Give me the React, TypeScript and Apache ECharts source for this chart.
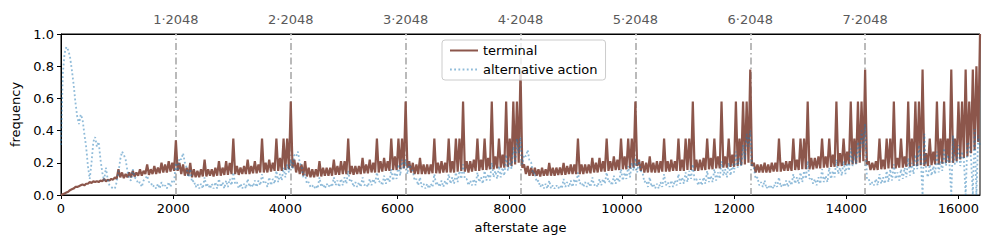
import React, { useEffect, useRef } from "react";
import * as echarts from "echarts";

// sampling grid of the hand-read values: one value every 32 steps, 8 blocks of 2048
const STEP = 32;
const BLOCK = 2048;

const terminal0 = [
  0, 0.005, 0.01, 0.015, 0.02, 0.03, 0.035, 0.04,
  0.05, 0.05, 0.055, 0.06, 0.065, 0.06, 0.07, 0.07,
  0.08, 0.075, 0.085, 0.08, 0.085, 0.08, 0.09, 0.085,
  0.1, 0.085, 0.095, 0.09, 0.1, 0.095, 0.11, 0.1,
  0.16, 0.11, 0.14, 0.105, 0.13, 0.11, 0.14, 0.11,
  0.15, 0.115, 0.14, 0.12, 0.16, 0.12, 0.15, 0.13,
  0.19, 0.125, 0.16, 0.13, 0.18, 0.13, 0.17, 0.135,
  0.2, 0.14, 0.19, 0.14, 0.21, 0.145, 0.2, 0.15,
];
const terminal1 = [
  0.34, 0.15, 0.2, 0.13, 0.19, 0.12, 0.17, 0.12,
  0.2, 0.11, 0.16, 0.11, 0.15, 0.11, 0.16, 0.115,
  0.22, 0.115, 0.16, 0.12, 0.16, 0.115, 0.17, 0.12,
  0.21, 0.12, 0.17, 0.125, 0.21, 0.125, 0.2, 0.13,
  0.35, 0.13, 0.18, 0.125, 0.17, 0.13, 0.18, 0.13,
  0.22, 0.13, 0.18, 0.135, 0.21, 0.135, 0.19, 0.14,
  0.35, 0.14, 0.2, 0.14, 0.22, 0.145, 0.2, 0.15,
  0.35, 0.15, 0.23, 0.15, 0.35, 0.155, 0.35, 0.16,
];
const terminal2 = [
  0.58, 0.17, 0.22, 0.14, 0.2, 0.13, 0.19, 0.12,
  0.21, 0.115, 0.17, 0.11, 0.16, 0.11, 0.16, 0.115,
  0.21, 0.115, 0.17, 0.12, 0.17, 0.12, 0.17, 0.12,
  0.22, 0.125, 0.18, 0.125, 0.21, 0.13, 0.21, 0.13,
  0.35, 0.13, 0.18, 0.125, 0.18, 0.13, 0.18, 0.13,
  0.23, 0.135, 0.19, 0.135, 0.22, 0.14, 0.2, 0.14,
  0.35, 0.14, 0.21, 0.145, 0.23, 0.15, 0.21, 0.15,
  0.35, 0.155, 0.24, 0.155, 0.35, 0.16, 0.35, 0.165,
];
const terminal3 = [
  0.58, 0.17, 0.21, 0.14, 0.2, 0.13, 0.19, 0.13,
  0.23, 0.13, 0.19, 0.13, 0.19, 0.13, 0.19, 0.135,
  0.35, 0.135, 0.2, 0.135, 0.21, 0.14, 0.2, 0.14,
  0.35, 0.14, 0.21, 0.14, 0.35, 0.145, 0.35, 0.15,
  0.58, 0.145, 0.21, 0.14, 0.21, 0.145, 0.22, 0.15,
  0.35, 0.15, 0.22, 0.155, 0.35, 0.155, 0.23, 0.16,
  0.58, 0.16, 0.24, 0.165, 0.35, 0.17, 0.25, 0.17,
  0.58, 0.175, 0.35, 0.18, 0.58, 0.19, 0.58, 0.2,
];
const terminal4 = [
  0.78, 0.17, 0.19, 0.13, 0.18, 0.12, 0.17, 0.12,
  0.17, 0.12, 0.16, 0.115, 0.17, 0.12, 0.16, 0.12,
  0.2, 0.12, 0.17, 0.12, 0.17, 0.125, 0.17, 0.125,
  0.2, 0.125, 0.18, 0.13, 0.19, 0.13, 0.19, 0.13,
  0.35, 0.13, 0.19, 0.13, 0.19, 0.135, 0.19, 0.135,
  0.23, 0.14, 0.2, 0.14, 0.23, 0.145, 0.21, 0.145,
  0.35, 0.15, 0.21, 0.15, 0.24, 0.155, 0.22, 0.155,
  0.35, 0.16, 0.24, 0.16, 0.35, 0.165, 0.35, 0.17,
];
const terminal5 = [
  0.58, 0.18, 0.22, 0.15, 0.21, 0.14, 0.2, 0.14,
  0.24, 0.14, 0.2, 0.14, 0.21, 0.14, 0.21, 0.145,
  0.35, 0.145, 0.21, 0.145, 0.22, 0.15, 0.21, 0.15,
  0.35, 0.15, 0.22, 0.15, 0.35, 0.155, 0.35, 0.155,
  0.58, 0.15, 0.22, 0.15, 0.22, 0.155, 0.23, 0.155,
  0.35, 0.16, 0.23, 0.16, 0.35, 0.165, 0.24, 0.165,
  0.58, 0.17, 0.24, 0.17, 0.35, 0.175, 0.25, 0.175,
  0.58, 0.18, 0.35, 0.185, 0.58, 0.19, 0.58, 0.2,
];
const terminal6 = [
  0.78, 0.18, 0.2, 0.14, 0.19, 0.14, 0.19, 0.14,
  0.2, 0.14, 0.19, 0.14, 0.2, 0.145, 0.2, 0.145,
  0.35, 0.145, 0.2, 0.15, 0.21, 0.15, 0.21, 0.15,
  0.35, 0.155, 0.22, 0.155, 0.35, 0.16, 0.35, 0.16,
  0.58, 0.16, 0.23, 0.16, 0.23, 0.165, 0.24, 0.165,
  0.35, 0.17, 0.24, 0.17, 0.35, 0.175, 0.25, 0.175,
  0.58, 0.18, 0.26, 0.18, 0.35, 0.185, 0.27, 0.19,
  0.58, 0.19, 0.35, 0.195, 0.58, 0.2, 0.58, 0.21,
];
const terminal7 = [
  0.78, 0.19, 0.21, 0.155, 0.2, 0.155, 0.21, 0.155,
  0.35, 0.16, 0.22, 0.16, 0.35, 0.165, 0.35, 0.165,
  0.58, 0.165, 0.23, 0.17, 0.35, 0.17, 0.24, 0.175,
  0.58, 0.175, 0.35, 0.18, 0.58, 0.18, 0.58, 0.185,
  0.78, 0.18, 0.26, 0.18, 0.35, 0.185, 0.27, 0.19,
  0.58, 0.19, 0.35, 0.195, 0.58, 0.2, 0.35, 0.2,
  0.78, 0.2, 0.35, 0.21, 0.58, 0.22, 0.58, 0.23,
  0.78, 0.24, 0.58, 0.26, 0.78, 0.28, 0.8, 0.33,
];
const terminalEnd = 1.0;

const alternative0 = [
  0.31, 0.75, 0.88, 0.92, 0.9, 0.86, 0.78, 0.69,
  0.58, 0.49, 0.44, 0.5, 0.47, 0.38, 0.3, 0.18,
  0.1, 0.2, 0.33, 0.36, 0.3, 0.33, 0.22, 0.14,
  0.09, 0.17, 0.1, 0.06, 0.05, 0.04, 0.04, 0.08,
  0.14, 0.22, 0.27, 0.25, 0.22, 0.15, 0.1, 0.09,
  0.16, 0.11, 0.1, 0.07, 0.08, 0.05, 0.09, 0.1,
  0.12, 0.08, 0.08, 0.05, 0.06, 0.04, 0.07, 0.04,
  0.08, 0.05, 0.06, 0.04, 0.08, 0.05, 0.09, 0.08,
];
const alternative1 = [
  0.2, 0.15, 0.23, 0.22, 0.26, 0.2, 0.17, 0.11,
  0.16, 0.08, 0.09, 0.05, 0.07, 0.04, 0.07, 0.04,
  0.11, 0.05, 0.07, 0.04, 0.07, 0.04, 0.08, 0.04,
  0.1, 0.05, 0.08, 0.04, 0.09, 0.05, 0.1, 0.06,
  0.14, 0.07, 0.08, 0.04, 0.07, 0.04, 0.07, 0.04,
  0.1, 0.05, 0.07, 0.05, 0.09, 0.05, 0.09, 0.06,
  0.13, 0.07, 0.08, 0.05, 0.11, 0.06, 0.1, 0.07,
  0.15, 0.08, 0.13, 0.09, 0.17, 0.11, 0.19, 0.14,
];
const alternative2 = [
  0.22, 0.16, 0.25, 0.24, 0.27, 0.2, 0.18, 0.11,
  0.13, 0.07, 0.08, 0.05, 0.06, 0.04, 0.06, 0.04,
  0.11, 0.05, 0.07, 0.04, 0.07, 0.05, 0.07, 0.05,
  0.11, 0.06, 0.09, 0.05, 0.1, 0.06, 0.11, 0.07,
  0.15, 0.08, 0.09, 0.05, 0.08, 0.05, 0.08, 0.05,
  0.11, 0.06, 0.07, 0.05, 0.1, 0.06, 0.1, 0.07,
  0.14, 0.08, 0.09, 0.06, 0.12, 0.07, 0.11, 0.08,
  0.16, 0.09, 0.14, 0.1, 0.19, 0.12, 0.22, 0.16,
];
const alternative3 = [
  0.22, 0.13, 0.2, 0.16, 0.15, 0.09, 0.1, 0.06,
  0.11, 0.05, 0.07, 0.04, 0.07, 0.04, 0.07, 0.05,
  0.13, 0.06, 0.08, 0.05, 0.09, 0.05, 0.09, 0.06,
  0.13, 0.07, 0.11, 0.07, 0.14, 0.08, 0.15, 0.1,
  0.19, 0.1, 0.1, 0.06, 0.09, 0.06, 0.1, 0.06,
  0.14, 0.08, 0.11, 0.07, 0.15, 0.09, 0.13, 0.09,
  0.2, 0.11, 0.15, 0.1, 0.18, 0.11, 0.17, 0.12,
  0.25, 0.15, 0.22, 0.16, 0.3, 0.2, 0.35, 0.26,
];
const alternative4 = [
  0.36, 0.19, 0.25, 0.24, 0.28, 0.21, 0.2, 0.13,
  0.14, 0.08, 0.09, 0.05, 0.07, 0.04, 0.07, 0.04,
  0.09, 0.04, 0.06, 0.04, 0.06, 0.04, 0.06, 0.04,
  0.1, 0.05, 0.08, 0.05, 0.09, 0.05, 0.1, 0.06,
  0.14, 0.07, 0.08, 0.05, 0.08, 0.05, 0.08, 0.05,
  0.11, 0.06, 0.07, 0.05, 0.1, 0.06, 0.1, 0.07,
  0.14, 0.08, 0.09, 0.06, 0.12, 0.07, 0.11, 0.08,
  0.16, 0.09, 0.14, 0.1, 0.18, 0.11, 0.2, 0.15,
];
const alternative5 = [
  0.23, 0.14, 0.21, 0.15, 0.14, 0.08, 0.09, 0.05,
  0.11, 0.05, 0.07, 0.04, 0.07, 0.04, 0.08, 0.05,
  0.13, 0.06, 0.08, 0.05, 0.09, 0.05, 0.09, 0.06,
  0.13, 0.07, 0.11, 0.07, 0.14, 0.08, 0.15, 0.1,
  0.19, 0.09, 0.1, 0.06, 0.1, 0.06, 0.11, 0.07,
  0.15, 0.08, 0.12, 0.08, 0.16, 0.09, 0.14, 0.1,
  0.21, 0.12, 0.16, 0.11, 0.2, 0.12, 0.19, 0.14,
  0.27, 0.17, 0.23, 0.18, 0.31, 0.22, 0.38, 0.3,
];
const alternative6 = [
  0.4, 0.18, 0.17, 0.1, 0.11, 0.06, 0.08, 0.05,
  0.09, 0.04, 0.06, 0.04, 0.06, 0.04, 0.08, 0.05,
  0.11, 0.05, 0.07, 0.05, 0.09, 0.05, 0.09, 0.06,
  0.13, 0.07, 0.11, 0.07, 0.14, 0.08, 0.15, 0.1,
  0.21, 0.1, 0.11, 0.07, 0.1, 0.06, 0.11, 0.07,
  0.16, 0.08, 0.12, 0.08, 0.17, 0.1, 0.15, 0.11,
  0.22, 0.13, 0.17, 0.12, 0.21, 0.13, 0.2, 0.15,
  0.29, 0.18, 0.25, 0.19, 0.33, 0.23, 0.4, 0.3,
];
const alternative7 = [
  0.44, 0.1, 0.1, 0.06, 0.08, 0.06, 0.1, 0.06,
  0.13, 0.07, 0.11, 0.07, 0.15, 0.08, 0.16, 0.09,
  0.19, 0.1, 0.14, 0.09, 0.16, 0.1, 0.17, 0.11,
  0.23, 0.12, 0.2, 0.13, 0.25, 0.16, 0.31, 0.22,
  0.0, 0.38, 0.15, 0.11, 0.19, 0.12, 0.18, 0.13,
  0.27, 0.14, 0.21, 0.15, 0.29, 0.18, 0.25, 0.19,
  0.0, 0.37, 0.19, 0.2, 0.31, 0.18, 0.27, 0.22,
  0.0, 0.33, 0.31, 0.23, 0.0, 0.41, 0.0, 0.37,
];
const alternativeEnd = 0.3;

const xTicks = [0, 2000, 4000, 6000, 8000, 10000, 12000, 14000, 16000];
const boundaryMarks = [2048, 4096, 6144, 8192, 10240, 12288, 14336];
const boundaryLabels = ["1·2048", "2·2048", "3·2048", "4·2048", "5·2048", "6·2048", "7·2048"];
const X_MAX = 16384;

const terminalBlocks = [terminal0, terminal1, terminal2, terminal3, terminal4, terminal5, terminal6, terminal7];
const alternativeBlocks = [alternative0, alternative1, alternative2, alternative3, alternative4, alternative5, alternative6, alternative7];

function build(blocks: number[][], end: number): [number, number][] {
  const out: [number, number][] = [];
  blocks.forEach((b, k) => b.forEach((v, i) => out.push([k * BLOCK + i * STEP, v])));
  out.push([blocks.length * BLOCK, end]);
  return out;
}

const FONT = "DejaVu Sans";

export default function App() {
  const ref = useRef<HTMLDivElement>(null);
  useEffect(() => {
    if (!ref.current) return;
    const chart = echarts.init(ref.current, undefined, { renderer: "svg" });
    chart.setOption({
      animation: false,
      backgroundColor: "#fff",
      textStyle: { fontFamily: FONT },
      grid: { left: 61, top: 34, width: 919, height: 161, show: true, borderColor: "#000", borderWidth: 1, backgroundColor: "transparent" },
      legend: {
        left: 442,
        top: 40,
        orient: "vertical",
        itemWidth: 28,
        itemHeight: 12,
        itemGap: 6,
        padding: [4, 8, 4, 7],
        backgroundColor: "rgba(255,255,255,0.8)",
        borderColor: "#cccccc",
        borderWidth: 1,
        borderRadius: 3,
        itemStyle: { opacity: 0 },
        textStyle: { fontFamily: FONT, fontSize: 13, color: "#000" },
        data: ["terminal", "alternative action"],
      },
      xAxis: [
        {
          type: "value",
          min: 0,
          max: X_MAX,
          position: "bottom",
          name: "afterstate age",
          nameLocation: "middle",
          nameGap: 26,
          nameTextStyle: { fontFamily: FONT, fontSize: 13, color: "#000" },
          axisLine: { show: true, lineStyle: { color: "#000", width: 1 } },
          axisTick: { show: true, inside: false, length: 4, customValues: xTicks, lineStyle: { color: "#000" } },
          axisLabel: {
            customValues: xTicks,
            fontFamily: FONT,
            fontSize: 13,
            color: "#000",
            margin: 7,
            formatter: (v: number) => String(v),
          },
          splitLine: { show: false },
        },
        {
          type: "value",
          min: 0,
          max: X_MAX,
          position: "top",
          axisLine: { show: true, lineStyle: { color: "#000", width: 1 } },
          axisTick: { show: false },
          axisLabel: {
            customValues: boundaryMarks,
            fontFamily: FONT,
            fontSize: 13,
            color: "#5a5a5a",
            margin: 8,
            formatter: (v: number) => boundaryLabels[boundaryMarks.indexOf(v)] ?? "",
          },
          splitLine: { show: false },
        },
      ],
      yAxis: {
        type: "value",
        min: 0,
        max: 1,
        interval: 0.2,
        name: "frequency",
        nameLocation: "middle",
        nameGap: 34,
        nameTextStyle: { fontFamily: FONT, fontSize: 13, color: "#000" },
        axisLine: { show: true, lineStyle: { color: "#000", width: 1 } },
        axisTick: { show: true, inside: false, length: 4, lineStyle: { color: "#000" } },
        axisLabel: { fontFamily: FONT, fontSize: 13, color: "#000", margin: 7, formatter: (v: number) => v.toFixed(1) },
        splitLine: { show: false },
      },
      series: [
        {
          name: "terminal",
          type: "line",
          xAxisIndex: 0,
          z: 2,
          data: build(terminalBlocks, terminalEnd),
          showSymbol: false,
          symbol: "none",
          color: "#8c564b",
          lineStyle: { color: "#8c564b", width: 2.2 },
          markLine: {
            silent: true,
            z: 1,
            symbol: "none",
            label: { show: false },
            lineStyle: { color: "#b3b3b3", width: 1.8, type: [7, 3, 1.5, 3] },
            data: boundaryMarks.map((v) => ({ xAxis: v })),
          },
        },
        {
          name: "alternative action",
          type: "line",
          xAxisIndex: 0,
          z: 3,
          data: build(alternativeBlocks, alternativeEnd),
          showSymbol: false,
          symbol: "none",
          color: "rgba(31,119,180,0.5)",
          lineStyle: { color: "rgba(31,119,180,0.5)", width: 1.8, type: [1.8, 2.4] },
        },
      ],
    });
    return () => chart.dispose();
  }, []);
  return <div ref={ref} style={{ position: "fixed", left: 0, top: 0, width: 996, height: 249 }} />;
}
